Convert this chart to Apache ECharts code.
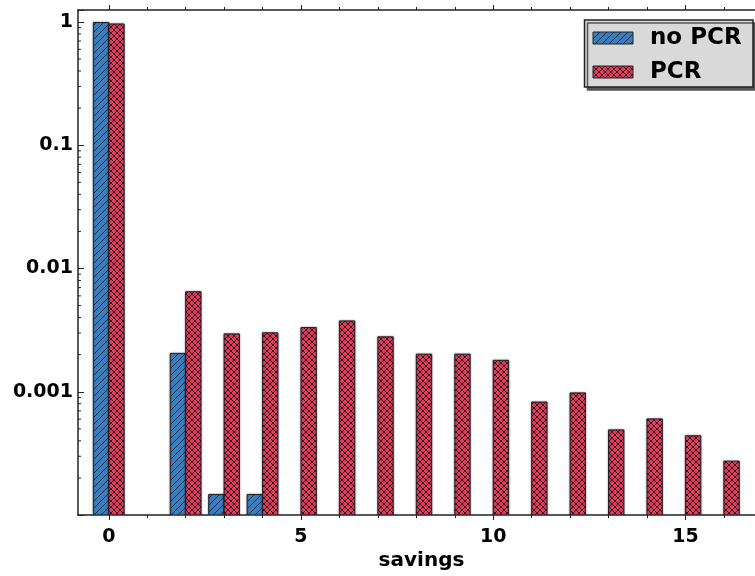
<!DOCTYPE html>
<html>
<head>
<meta charset="utf-8">
<script src="https://cdn.jsdelivr.net/npm/echarts@6/dist/echarts.min.js"></script>
<style>
html,body{margin:0;padding:0;background:#ffffff;}
#chart{width:755px;height:576px;}
</style>
</head>
<body>
<div id="chart"></div>
<script>
// ---- data ----
const savings = [0, 1, 2, 3, 4, 5, 6, 7, 8, 9, 10, 11, 12, 13, 14, 15, 16];
const noPCR = [0.99, null, 0.00205, 0.000147, 0.000147, null, null, null, null, null, null, null, null, null, null, null, null];
const withPCR = [0.963, null, 0.00649, 0.00295, 0.00301, 0.00332, 0.00376, 0.00279, 0.00202, 0.00202, 0.0018, 0.000826, 0.00098, 0.000491, 0.000603, 0.00044, 0.000274];
const seriesNames = ['no PCR', 'PCR'];
const xMajorTicks = [0, 5, 10, 15];
const xMinorTicks = [1, 2, 3, 4, 6, 7, 8, 9, 11, 12, 13, 14, 16];
const yTickLabels = { '-3': '0.001', '-2': '0.01', '-1': '0.1', '0': '1' };
const yMinorTicks = [
  0.0002, 0.0003, 0.0004, 0.0005, 0.0006, 0.0007, 0.0008, 0.0009,
  0.002, 0.003, 0.004, 0.005, 0.006, 0.007, 0.008, 0.009,
  0.02, 0.03, 0.04, 0.05, 0.06, 0.07, 0.08, 0.09,
  0.2, 0.3, 0.4, 0.5, 0.6, 0.7, 0.8, 0.9
];

const X_MIN = -0.8, X_MAX = 16.81, Y_MIN = 0.0001, Y_MAX = 1.25;
const BAR_W = 0.4;
const FONT = 'DejaVu Sans';
const AXIS_COLOR = '#222222';

function hatch(bg, fg, kind, s) {
  const c = document.createElement('canvas');
  c.width = s; c.height = s;
  const g = c.getContext('2d');
  g.fillStyle = bg; g.fillRect(0, 0, s, s);
  g.strokeStyle = fg; g.lineWidth = 1;
  g.beginPath();
  g.moveTo(-1, s + 1); g.lineTo(s + 1, -1);
  if (kind === 'cross') { g.moveTo(-1, -1); g.lineTo(s + 1, s + 1); }
  g.stroke();
  return { image: c, repeat: 'repeat' };
}
const bluePat = hatch('#3a7ec0', '#1f3347', 'diag', 7);
const redPat = hatch('#e8385c', '#2a1d20', 'cross', 6);

function barSeries(name, values, x0, x1, pat) {
  const data = [];
  savings.forEach((x, i) => { if (values[i] != null) data.push([x, values[i]]); });
  return {
    name: name,
    type: 'custom',
    xAxisIndex: 0, yAxisIndex: 0,
    clip: true,
    itemStyle: { color: pat, borderColor: AXIS_COLOR, borderWidth: 1 },
    encode: { x: 0, y: 1 },
    data: data,
    renderItem: function (params, api) {
      const x = api.value(0), v = api.value(1);
      const a = api.coord([x + x0, v]);
      const b = api.coord([x + x1, Y_MIN]);
      return {
        type: 'rect',
        shape: { x: a[0], y: a[1], width: b[0] - a[0], height: b[1] - a[1] },
        style: { fill: pat, stroke: AXIS_COLOR, lineWidth: 1, shadowBlur: 2, shadowColor: 'rgba(0,0,0,0.35)' }
      };
    }
  };
}

const minorYSeries = {
  type: 'custom',
  silent: true,
  xAxisIndex: 0, yAxisIndex: 0,
  encode: { x: 0, y: 1 },
  data: yMinorTicks.map(v => [X_MIN, v]),
  renderItem: function (params, api) {
    const p = api.coord([X_MIN, api.value(1)]);
    return {
      type: 'line',
      shape: { x1: p[0], y1: p[1], x2: p[0] + 3, y2: p[1] },
      style: { stroke: AXIS_COLOR, lineWidth: 1 }
    };
  }
};

const labelFont = { fontFamily: FONT, fontWeight: 'bold', fontSize: 19, color: '#000' };

function xAx(position, ticks, len, showLine, showLabel) {
  return {
    type: 'value', min: X_MIN, max: X_MAX, position: position,
    axisLine: { show: showLine, onZero: false, lineStyle: { color: AXIS_COLOR, width: 1.5 } },
    axisTick: { show: true, inside: false, length: len, customValues: ticks, lineStyle: { color: AXIS_COLOR, width: 1 } },
    axisLabel: showLabel ? Object.assign({ show: true, customValues: ticks, margin: 12 }, labelFont) : { show: false },
    splitLine: { show: false }
  };
}

const xAxes = [
  xAx('bottom', xMajorTicks, 5, true, true),
  xAx('bottom', xMinorTicks, 3, false, false),
  xAx('top', xMajorTicks, 5, true, false),
  xAx('top', xMinorTicks, 3, false, false)
];
xAxes[0].name = 'savings';
xAxes[0].nameLocation = 'middle';
xAxes[0].nameGap = 29;
xAxes[0].nameTextStyle = { fontFamily: FONT, fontWeight: 'bold', fontSize: 20, color: '#000', padding: [0, 0, 0, 10] };

const chart = echarts.init(document.getElementById('chart'), null, { renderer: 'canvas' });
chart.setOption({
  animation: false,
  backgroundColor: '#ffffff',
  grid: { left: 78, right: 0, top: 10, bottom: 58, containLabel: false },
  legend: {
    right: 2, top: 20,
    orient: 'vertical',
    backgroundColor: '#d9d9d9',
    borderColor: AXIS_COLOR, borderWidth: 1.5, borderRadius: 0,
    shadowColor: '#555555', shadowOffsetX: 3, shadowOffsetY: 3, shadowBlur: 0,
    padding: [6, 7, 3, 8],
    itemWidth: 40, itemHeight: 12, itemGap: 10,
    selectedMode: false,
    textStyle: { fontFamily: FONT, fontWeight: 'bold', fontSize: 23, color: '#000', lineHeight: 24, padding: [0, 0, 0, 12], width: 96 },
    data: [
      { name: seriesNames[0], icon: 'rect', itemStyle: { color: bluePat, borderColor: AXIS_COLOR, borderWidth: 1 } },
      { name: seriesNames[1], icon: 'rect', itemStyle: { color: redPat, borderColor: AXIS_COLOR, borderWidth: 1 } }
    ]
  },
  xAxis: xAxes,
  yAxis: {
    type: 'log', logBase: 10, min: Y_MIN, max: Y_MAX,
    axisLine: { show: true, onZero: false, lineStyle: { color: AXIS_COLOR, width: 1.5 } },
    axisTick: { show: true, inside: true, length: 6, lineStyle: { color: AXIS_COLOR, width: 1 } },
    axisLabel: Object.assign({
      margin: 5,
      padding: [3, 0, 0, 0],
      formatter: function (v) {
        const e = Math.log10(v);
        const r = Math.round(e);
        if (Math.abs(e - r) > 1e-6) return '';
        return yTickLabels[String(r)] || '';
      }
    }, labelFont),
    splitLine: { show: false }
  },
  series: [
    barSeries(seriesNames[0], noPCR, -BAR_W, 0, bluePat),
    barSeries(seriesNames[1], withPCR, 0, BAR_W, redPat),
    minorYSeries
  ]
});
</script>
</body>
</html>
